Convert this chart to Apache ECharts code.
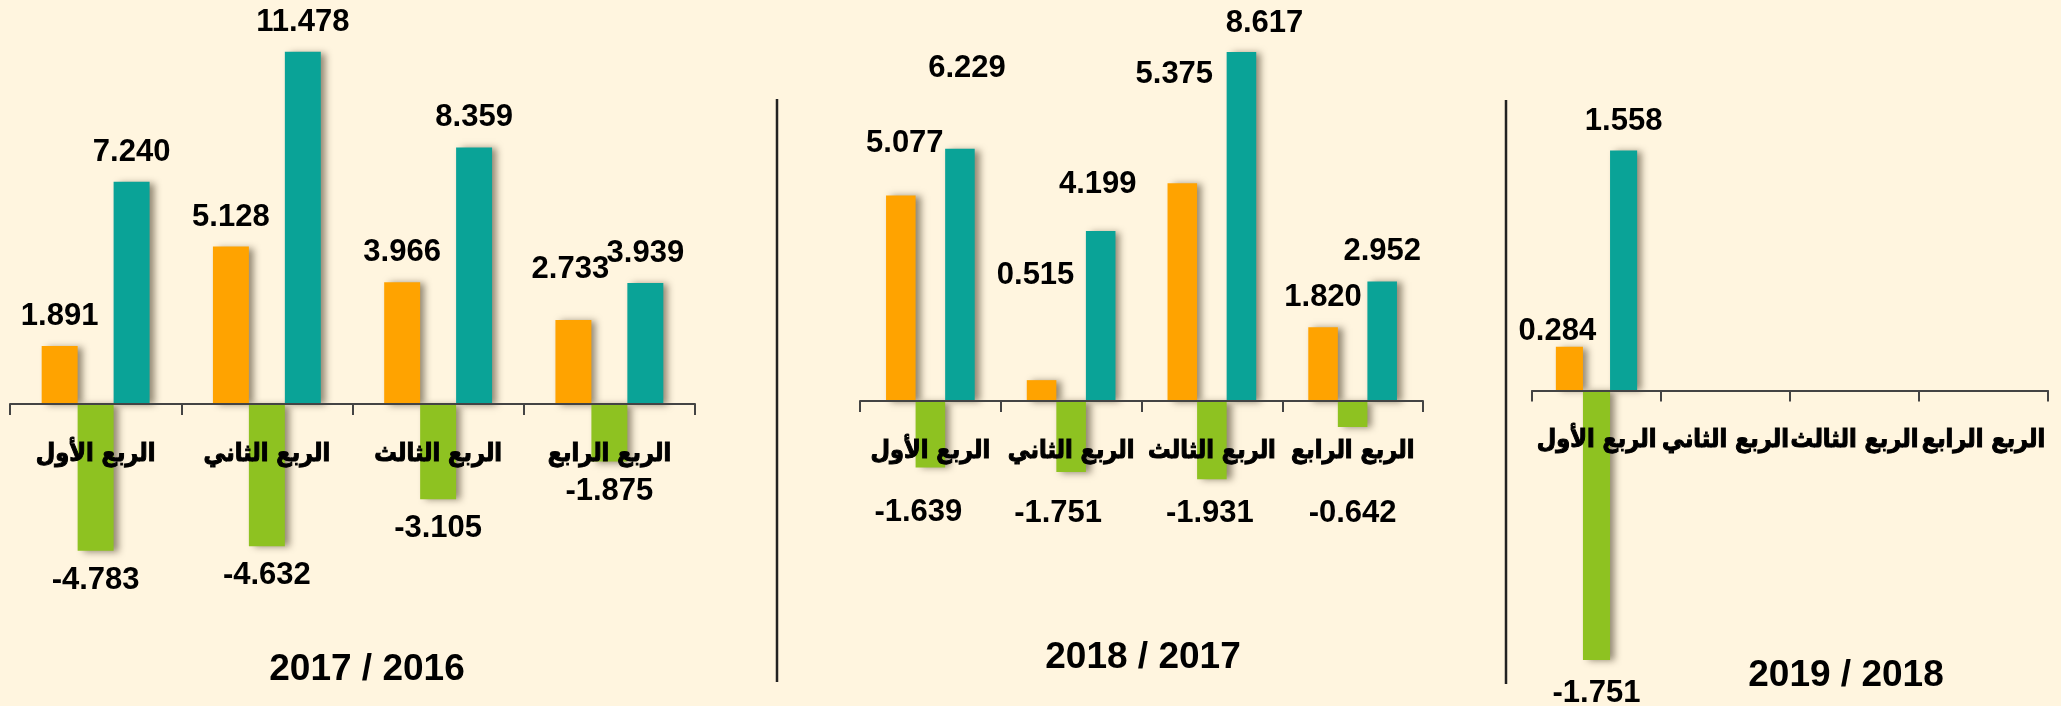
<!DOCTYPE html>
<html>
<head>
<meta charset="utf-8">
<script src="https://cdn.jsdelivr.net/npm/echarts@6/dist/echarts.min.js"></script>
<style>
  html, body {margin: 0; padding: 0; background: #fff5df;}
  #chart {width: 2061px; height: 706px;}
</style>
</head>
<body>
<div id="chart"></div>
<script>
// 季度
let quarters = ['الربع الأول', 'الربع الثاني', 'الربع الثالث', 'الربع الرابع'];
let periods = ['2017 / 2016', '2018 / 2017', '2019 / 2018'];

// 2017 / 2016
let orange1 = [1.891, 5.128, 3.966, 2.733];
let green1 = [-4.783, -4.632, -3.105, -1.875];
let teal1 = [7.240, 11.478, 8.359, 3.939];

// 2018 / 2017
let orange2 = [5.077, 0.515, 5.375, 1.820];
let green2 = [-1.639, -1.751, -1.931, -0.642];
let teal2 = [6.229, 4.199, 8.617, 2.952];

// 2019 / 2018
let orange3 = [0.284, null, null, null];
let green3 = [-1.751, null, null, null];
let teal3 = [1.558, null, null, null];

let colors = ['#ffa300', '#8ec221', '#0aa397'];
let font = 'Arial, "Liberation Sans", "DejaVu Sans", sans-serif';
let arFont = '"DejaVu Sans Condensed", "DejaVu Sans", sans-serif';

// 每个面板: 网格底边就是零线, 负值柱子画到网格外
let layout = [
  {left: 10, width: 685, top: 4.9, height: 399.1, max: 13, titleX: 362, titleY: 646},
  {left: 860, width: 563, top: 36.5, height: 364.5, max: 9, titleX: 1138, titleY: 634},
  {left: 1532, width: 516, top: 82.4, height: 308, max: 2, titleX: 1841, titleY: 652}
];
let values = [
  [orange1, green1, teal1],
  [orange2, green2, teal2],
  [orange3, green3, teal3]
];

// 个别标签的偏移 (面板-系列-季度)
let shift = {
  '0-0-3': [-3, -21],
  '1-0-0': [4, -22], '1-2-0': [7, -51],
  '1-0-1': [-6, -75], '1-2-1': [-3, -17],
  '1-0-2': [-8, -79], '1-2-2': [23, 1],
  '1-1-0': [-12, 16], '1-1-1': [-13, 12], '1-1-2': [-2, 5], '1-1-3': [0, 57],
  '2-0-0': [-12, 14], '2-1-0': [0, 4]
};

let grid = [], xAxis = [], yAxis = [], series = [], title = [];

layout.forEach(function (p, i) {
  grid.push({left: p.left, width: p.width, top: p.top, height: p.height, outerBoundsMode: 'none'});
  xAxis.push({
    type: 'category', gridIndex: i, data: quarters, z: 5,
    axisLine: {lineStyle: {color: '#444', width: 2}},
    axisTick: {show: true, length: 11, lineStyle: {color: '#444', width: 2}},
    axisLabel: {
      interval: 0, margin: 38, color: '#000', fontSize: 25, fontWeight: 'bold',
      fontFamily: arFont, textBorderColor: '#000', textBorderWidth: 1
    }
  });
  yAxis.push({
    type: 'value', gridIndex: i, min: 0, max: p.max, show: false,
    splitLine: {show: false}
  });
  title.push({
    text: periods[i], left: p.titleX, top: p.titleY, textAlign: 'center',
    textStyle: {fontSize: 37, fontWeight: 'bold', color: '#000', fontFamily: font}
  });
  values[i].forEach(function (arr, s) {
    let neg = s === 1;
    series.push({
      type: 'bar', xAxisIndex: i, yAxisIndex: i, clip: false,
      barWidth: '21%', barGap: '0%', barCategoryGap: '37%',
      itemStyle: {
        color: colors[s], shadowColor: 'rgba(40,30,10,0.5)',
        shadowBlur: 7, shadowOffsetX: 5, shadowOffsetY: 1
      },
      label: {
        show: true, position: neg ? 'bottom' : 'top', distance: 14,
        color: '#000', fontSize: 31, fontWeight: 'bold', fontFamily: font,
        formatter: function (d) {
          return d.value.toFixed(3);
        }
      },
      data: arr.map(function (v, q) {
        let o = shift[i + '-' + s + '-' + q];
        if (v === null) {
          return '-';
        }
        return o ? {value: v, label: {offset: o}} : v;
      })
    });
  });
});

let c = echarts.init(document.getElementById('chart'));
c.setOption({
  backgroundColor: '#fff5df',
  animation: false,
  title: title,
  grid: grid,
  xAxis: xAxis,
  yAxis: yAxis,
  series: series,
  graphic: [
    {type: 'line', shape: {x1: 777, y1: 99, x2: 777, y2: 682}, style: {stroke: '#222', lineWidth: 2.5}},
    {type: 'line', shape: {x1: 1506, y1: 100, x2: 1506, y2: 684}, style: {stroke: '#222', lineWidth: 2.5}}
  ]
});
</script>
</body>
</html>
